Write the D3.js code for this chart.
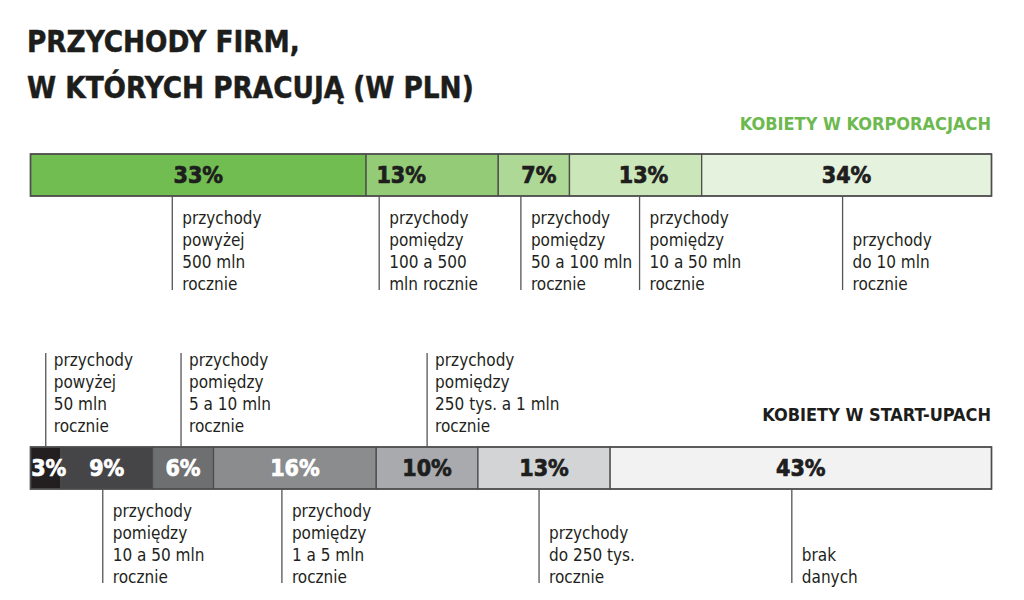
<!DOCTYPE html>
<html>
<head>
<meta charset="utf-8">
<script src="https://cdn.jsdelivr.net/npm/d3@7"></script>
<style>
    body { margin: 0; background: #fff; }
    svg text { font-family: "DejaVu Sans Condensed", "DejaVu Sans", sans-serif; font-stretch: condensed; }
</style>
</head>
<body>
<div id="chart"></div>
<script>
// Women in corporations: share by company revenue
const corpValues = [33, 13, 7, 13, 34];
const corpLabels = [
    ["przychody", "powyżej", "500 mln", "rocznie"],
    ["przychody", "pomiędzy", "100 a 500", "mln rocznie"],
    ["przychody", "pomiędzy", "50 a 100 mln", "rocznie"],
    ["przychody", "pomiędzy", "10 a 50 mln", "rocznie"],
    ["przychody", "do 10 mln", "rocznie"]
];

// Women in start-ups: share by company revenue
const startupValues = [3, 9, 6, 16, 10, 13, 43];
const startupLabels = [
    ["przychody", "powyżej", "50 mln", "rocznie"],
    ["przychody", "pomiędzy", "10 a 50 mln", "rocznie"],
    ["przychody", "pomiędzy", "5 a 10 mln", "rocznie"],
    ["przychody", "pomiędzy", "1 a 5 mln", "rocznie"],
    ["przychody", "pomiędzy", "250 tys. a 1 mln", "rocznie"],
    ["przychody", "do 250 tys.", "rocznie"],
    ["brak", "danych"]
];
const startupSides = ["above", "below", "above", "below", "above", "below", "below"];

// styling
const corpFills = ["#71bd52", "#94cb76", "#aed895", "#cbe6b9", "#e5f2dd"];
const corpInk = ["#1e1e1e", "#1e1e1e", "#1e1e1e", "#1e1e1e", "#1e1e1e"];
const startupFills = ["#231f20", "#454547", "#6e6f71", "#8b8c8e", "#a8aaad", "#d3d4d6", "#f2f2f3"];
const startupInk = ["#fff", "#fff", "#fff", "#fff", "#1e1e1e", "#1e1e1e", "#1e1e1e"];

// label leader offsets from segment centre (hand layout, as in the print)
const corpLeaderNudge = [-26, -53, -13, 4, -4];
const corpPctNudge = [0, -31, 5, 8, 0];
const startupLeaderNudge = [0, -4, -2, -13, 0, -5, -9];
const startupPctNudge = [3, 0, 0, 0, 0, 0, 0];

const width = 1024, height = 600;
const barH = 42, lineH = 22;

const svg = d3.select("#chart").append("svg")
    .attr("width", width)
    .attr("height", height);

// both bars share one scale; the printed frame cuts the last segment short
const x = d3.scaleLinear().domain([0, 94.5]).range([30.5, 991.5]).clamp(true);

// title (squeezed a little to match the condensed print face)
svg.append("g")
    .attr("transform", "translate(27,0) scale(0.945,1)")
    .selectAll("text")
    .data(["PRZYCHODY FIRM,", "W KTÓRYCH PRACUJĄ (W PLN)"])
    .join("text")
    .attr("x", 0)
    .attr("y", (d, i) => 52 + i * 46)
    .attr("font-size", 31)
    .attr("font-weight", "bold")
    .attr("fill", "#1d1d1b")
    .attr("stroke", "#1d1d1b")
    .attr("stroke-width", 0.5)
    .text(d => d);

svg.append("text")
    .attr("x", 991).attr("y", 130)
    .attr("text-anchor", "end")
    .attr("font-size", 18).attr("font-weight", "bold")
    .attr("fill", "#6db94f")
    .text("KOBIETY W KORPORACJACH");

svg.append("text")
    .attr("x", 991).attr("y", 421)
    .attr("text-anchor", "end")
    .attr("font-size", 18).attr("font-weight", "bold")
    .attr("fill", "#1d1d1b")
    .text("KOBIETY W START-UPACH");

function drawBar(top, values, labels, sides, fills, ink, leaderNudge, pctNudge) {
    const ends = d3.cumsum(values);
    const segs = values.map((v, i) => ({
        v, i,
        x0: x(ends[i] - v),
        x1: x(ends[i]),
        lines: labels[i],
        side: sides[i]
    }));
    const g = svg.append("g");

    g.selectAll("rect.seg")
        .data(segs)
        .join("rect")
        .attr("class", "seg")
        .attr("x", d => d.x0)
        .attr("y", top)
        .attr("width", d => d.x1 - d.x0)
        .attr("height", barH)
        .attr("fill", d => fills[d.i])
        .attr("stroke", "#4d4d4d")
        .attr("stroke-width", 1.3);

    g.append("rect")
        .attr("x", x(0)).attr("y", top)
        .attr("width", x(d3.sum(values)) - x(0))
        .attr("height", barH)
        .attr("fill", "none")
        .attr("stroke", "#4d4d4d")
        .attr("stroke-width", 1.5);

    g.selectAll("text.pct")
        .data(segs)
        .join("text")
        .attr("class", "pct")
        .attr("x", d => (d.x0 + d.x1) / 2 + pctNudge[d.i])
        .attr("y", top + barH / 2 + 8.4)
        .attr("text-anchor", "middle")
        .attr("font-size", 23)
        .attr("font-weight", "bold")
        .attr("fill", d => ink[d.i])
        .attr("stroke", d => ink[d.i])
        .attr("stroke-width", 0.7)
        .text(d => d.v + "%");

    const lab = g.selectAll("g.lab")
        .data(segs)
        .join("g")
        .attr("class", "lab")
        .attr("transform", d => `translate(${(d.x0 + d.x1) / 2 + leaderNudge[d.i]},0)`);

    lab.append("line")
        .attr("x1", 0).attr("x2", 0)
        .attr("y1", d => d.side === "above" ? top : top + barH)
        .attr("y2", d => d.side === "above" ? top - 94 : top + barH + 94)
        .attr("stroke", "#555")
        .attr("stroke-width", 1.3);

    lab.each(function (d) {
        const n = d.lines.length;
        d3.select(this).selectAll("text")
            .data(d.lines)
            .join("text")
            .attr("x", d.side === "above" ? 8 : 10)
            .attr("y", (t, j) => d.side === "above"
                ? top - 81 + j * lineH
                : top + barH + 94 - (n - 1 - j) * lineH)
            .attr("font-size", 17)
            .attr("fill", "#231f20")
            .text(t => t);
    });
}

drawBar(154, corpValues, corpLabels, corpValues.map(() => "below"),
    corpFills, corpInk, corpLeaderNudge, corpPctNudge);
drawBar(447, startupValues, startupLabels, startupSides,
    startupFills, startupInk, startupLeaderNudge, startupPctNudge);
</script>
</body>
</html>
